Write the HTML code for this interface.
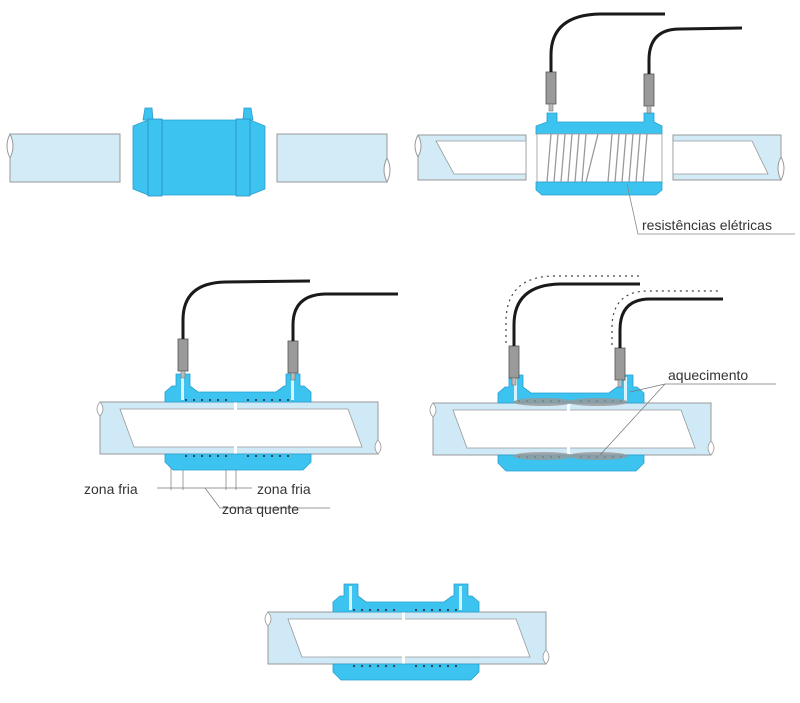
<!DOCTYPE html>
<html><head><meta charset="utf-8"><style>html,body{margin:0;padding:0;background:#fff}svg{display:block}text{font-family:"Liberation Sans",sans-serif;fill:#333}</style></head>
<body>
<svg width="800" height="703" viewBox="0 0 800 703" xmlns="http://www.w3.org/2000/svg">
<defs>
<g id="asm">
  <rect x="0" y="0" width="278" height="52" fill="#cfe9f6" stroke="#999" stroke-width="1"/>
  <path d="M20 7 L248 7 L262 45 L34 45 Z" fill="#fff" stroke="#999" stroke-width="0.8"/>
  <rect x="134" y="0" width="3" height="52" fill="#fff"/>
  <path d="M0 0 Q-6 7 0 14 Q6 7 0 0" fill="#fff" stroke="#999" stroke-width="0.8"/>
  <path d="M278 38 Q284 45 278 52 Q272 45 278 38" fill="#fff" stroke="#999" stroke-width="0.8"/>
  <path d="M65 0 L65 -10 L72 -16 L76 -16 L76 -28 L90 -28 L90 -16 L98 -10 L176 -10 L184 -16 L186 -16 L186 -28 L200 -28 L200 -16 L204 -16 L211 -10 L211 0 Z" fill="#3cc3ef" stroke="#2a9fd0" stroke-width="0.8"/>
  <rect x="81" y="-26" width="3" height="24" fill="#fff" opacity="0.8"/>
  <rect x="191" y="-26" width="3" height="24" fill="#fff" opacity="0.8"/>
  <path d="M65 52 L211 52 L211 60 L203 68 L73 68 L65 60 Z" fill="#3cc3ef" stroke="#2a9fd0" stroke-width="0.8"/>
  <g fill="#222">
    <circle cx="86" cy="-2" r="1"/><circle cx="94" cy="-2" r="1"/><circle cx="102" cy="-2" r="1"/><circle cx="110" cy="-2" r="1"/><circle cx="118" cy="-2" r="1"/><circle cx="126" cy="-2" r="1"/>
    <circle cx="148" cy="-2" r="1"/><circle cx="156" cy="-2" r="1"/><circle cx="164" cy="-2" r="1"/><circle cx="172" cy="-2" r="1"/><circle cx="180" cy="-2" r="1"/><circle cx="188" cy="-2" r="1"/>
    <circle cx="86" cy="54" r="1"/><circle cx="94" cy="54" r="1"/><circle cx="102" cy="54" r="1"/><circle cx="110" cy="54" r="1"/><circle cx="118" cy="54" r="1"/><circle cx="126" cy="54" r="1"/>
    <circle cx="148" cy="54" r="1"/><circle cx="156" cy="54" r="1"/><circle cx="164" cy="54" r="1"/><circle cx="172" cy="54" r="1"/><circle cx="180" cy="54" r="1"/><circle cx="188" cy="54" r="1"/>
  </g>
</g>
<g id="plug">
  <rect x="-5" y="0" width="10" height="32" fill="#9a9a9a" stroke="#555" stroke-width="0.8"/>
  <rect x="-2" y="32" width="4" height="7" fill="#bbb" stroke="#666" stroke-width="0.5"/>
</g>
</defs>

<!-- Panel 1 -->
<rect x="10" y="134" width="110" height="48" fill="#d3ebf7" stroke="#999"/>
<path d="M10 134 Q4 146 10 158 Q16 146 10 134" fill="#fff" stroke="#999"/>
<rect x="277" y="134" width="110" height="48" fill="#d3ebf7" stroke="#999"/>
<path d="M387 158 Q393 170 387 182 Q381 170 387 158" fill="#fff" stroke="#999"/>
<path d="M143 120 L145 108 L152 108 L153 120 Z M243 120 L244 108 L251 108 L253 120 Z" fill="#3cc3ef" stroke="#2a9fd0" stroke-width="0.8"/>
<path d="M133 126 L148 120 L250 120 L265 126 L265 189 L250 195 L148 195 L133 189 Z" fill="#3cc3ef" stroke="#2a9fd0" stroke-width="0.8"/>
<rect x="148" y="119" width="14" height="77" fill="#3cc3ef" stroke="#2a8fc0" stroke-width="0.8"/>
<rect x="236" y="119" width="14" height="77" fill="#3cc3ef" stroke="#2a8fc0" stroke-width="0.8"/>

<!-- Panel 2 -->
<rect x="418" y="135" width="108" height="45" fill="#d3ebf7" stroke="#999"/>
<path d="M436 141 L526 141 L526 174 L454 174 Z" fill="#fff" stroke="#999" stroke-width="0.8"/>
<path d="M418 135 Q412 146 418 157 Q424 146 418 135" fill="#fff" stroke="#999"/>
<rect x="673" y="135" width="108" height="45" fill="#d3ebf7" stroke="#999"/>
<path d="M673 141 L752 141 L768 174 L673 174 Z" fill="#fff" stroke="#999" stroke-width="0.8"/>
<path d="M781 157 Q787 168 781 180 Q775 168 781 157" fill="#fff" stroke="#999"/>
<path d="M536 134 L536 126 L547 122 L547 113 L557 113 L557 122 L640 122 L644 122 L644 113 L654 113 L654 122 L662 126 L662 134 Z" fill="#3cc3ef" stroke="#2a9fd0" stroke-width="0.8"/>
<rect x="537" y="134" width="125" height="48" fill="#fff" stroke="#999" stroke-width="0.8"/>
<path d="M536 182 L662 182 L662 190 L656 195 L542 195 L536 190 Z" fill="#3cc3ef" stroke="#2a9fd0" stroke-width="0.8"/>
<g stroke="#999" stroke-width="1.3">
<line x1="551" y1="134" x2="547" y2="182"/><line x1="558" y1="134" x2="554" y2="182"/><line x1="565" y1="134" x2="561" y2="182"/><line x1="572" y1="134" x2="568" y2="182"/><line x1="579" y1="134" x2="575" y2="182"/><line x1="586" y1="134" x2="582" y2="182"/>
<line x1="598" y1="134" x2="586" y2="182"/>
<line x1="612" y1="134" x2="608" y2="182"/><line x1="619" y1="134" x2="615" y2="182"/><line x1="626" y1="134" x2="622" y2="182"/><line x1="633" y1="134" x2="629" y2="182"/><line x1="640" y1="134" x2="636" y2="182"/><line x1="647" y1="134" x2="643" y2="182"/>
</g>
<use href="#plug" x="551" y="72"/>
<use href="#plug" x="649" y="74"/>
<path d="M551 72 L551 55 Q551 15 600 14 L665 14" fill="none" stroke="#1a1a1a" stroke-width="3"/>
<path d="M649 74 L649 60 Q649 29 680 29 L742 28" fill="none" stroke="#1a1a1a" stroke-width="3"/>
<polyline points="627,184 638,234 795,234" fill="none" stroke="#888" stroke-width="0.8"/>
<text x="642" y="230" font-size="14">resistências elétricas</text>

<!-- Panel 3 -->
<use href="#asm" x="100" y="402"/>
<use href="#plug" x="183" y="339"/>
<use href="#plug" x="293" y="341"/>
<path d="M183 339 L183 320 Q183 283 225 282 L310 281" fill="none" stroke="#1a1a1a" stroke-width="3"/>
<path d="M293 341 L293 325 Q293 295 325 294 L398 294" fill="none" stroke="#1a1a1a" stroke-width="3"/>
<g stroke="#777" stroke-width="0.7" fill="none">
<line x1="171" y1="468" x2="171" y2="490"/><line x1="183" y1="470" x2="183" y2="490"/>
<line x1="226" y1="470" x2="226" y2="490"/><line x1="236" y1="470" x2="236" y2="490"/>
<line x1="157" y1="488" x2="252" y2="488"/>
<polyline points="205,488 220,508 330,508"/>
</g>
<text x="84" y="494" font-size="14">zona fria</text>
<text x="257" y="494" font-size="14">zona fria</text>
<text x="222" y="514" font-size="14">zona quente</text>

<!-- Panel 4 -->
<use href="#asm" x="433" y="403"/>
<g fill="#999" opacity="0.8">
<ellipse cx="543" cy="402" rx="30" ry="4"/><ellipse cx="598" cy="402" rx="30" ry="4"/>
<ellipse cx="543" cy="456" rx="30" ry="4"/><ellipse cx="598" cy="456" rx="30" ry="4"/>
</g>
<use href="#plug" x="514" y="346"/>
<use href="#plug" x="620" y="348"/>
<path d="M514 346 L514 325 Q514 285 560 284 L640 284" fill="none" stroke="#1a1a1a" stroke-width="3"/>
<path d="M620 348 L620 330 Q620 299 650 299 L723 299" fill="none" stroke="#1a1a1a" stroke-width="3"/>
<path d="M506 343 L506 322 Q506 276 555 276 L640 276" fill="none" stroke="#444" stroke-width="1.2" stroke-dasharray="2 4"/>
<path d="M612 345 L612 328 Q612 291 648 291 L721 291" fill="none" stroke="#444" stroke-width="1.2" stroke-dasharray="2 4"/>
<g stroke="#777" stroke-width="0.7" fill="none">
<polyline points="776,384 665,384 630,392"/>
<line x1="665" y1="384" x2="600" y2="455"/>
</g>
<text x="668" y="380" font-size="14">aquecimento</text>

<!-- Panel 5 -->
<use href="#asm" x="268" y="612"/>
</svg>
</body></html>
